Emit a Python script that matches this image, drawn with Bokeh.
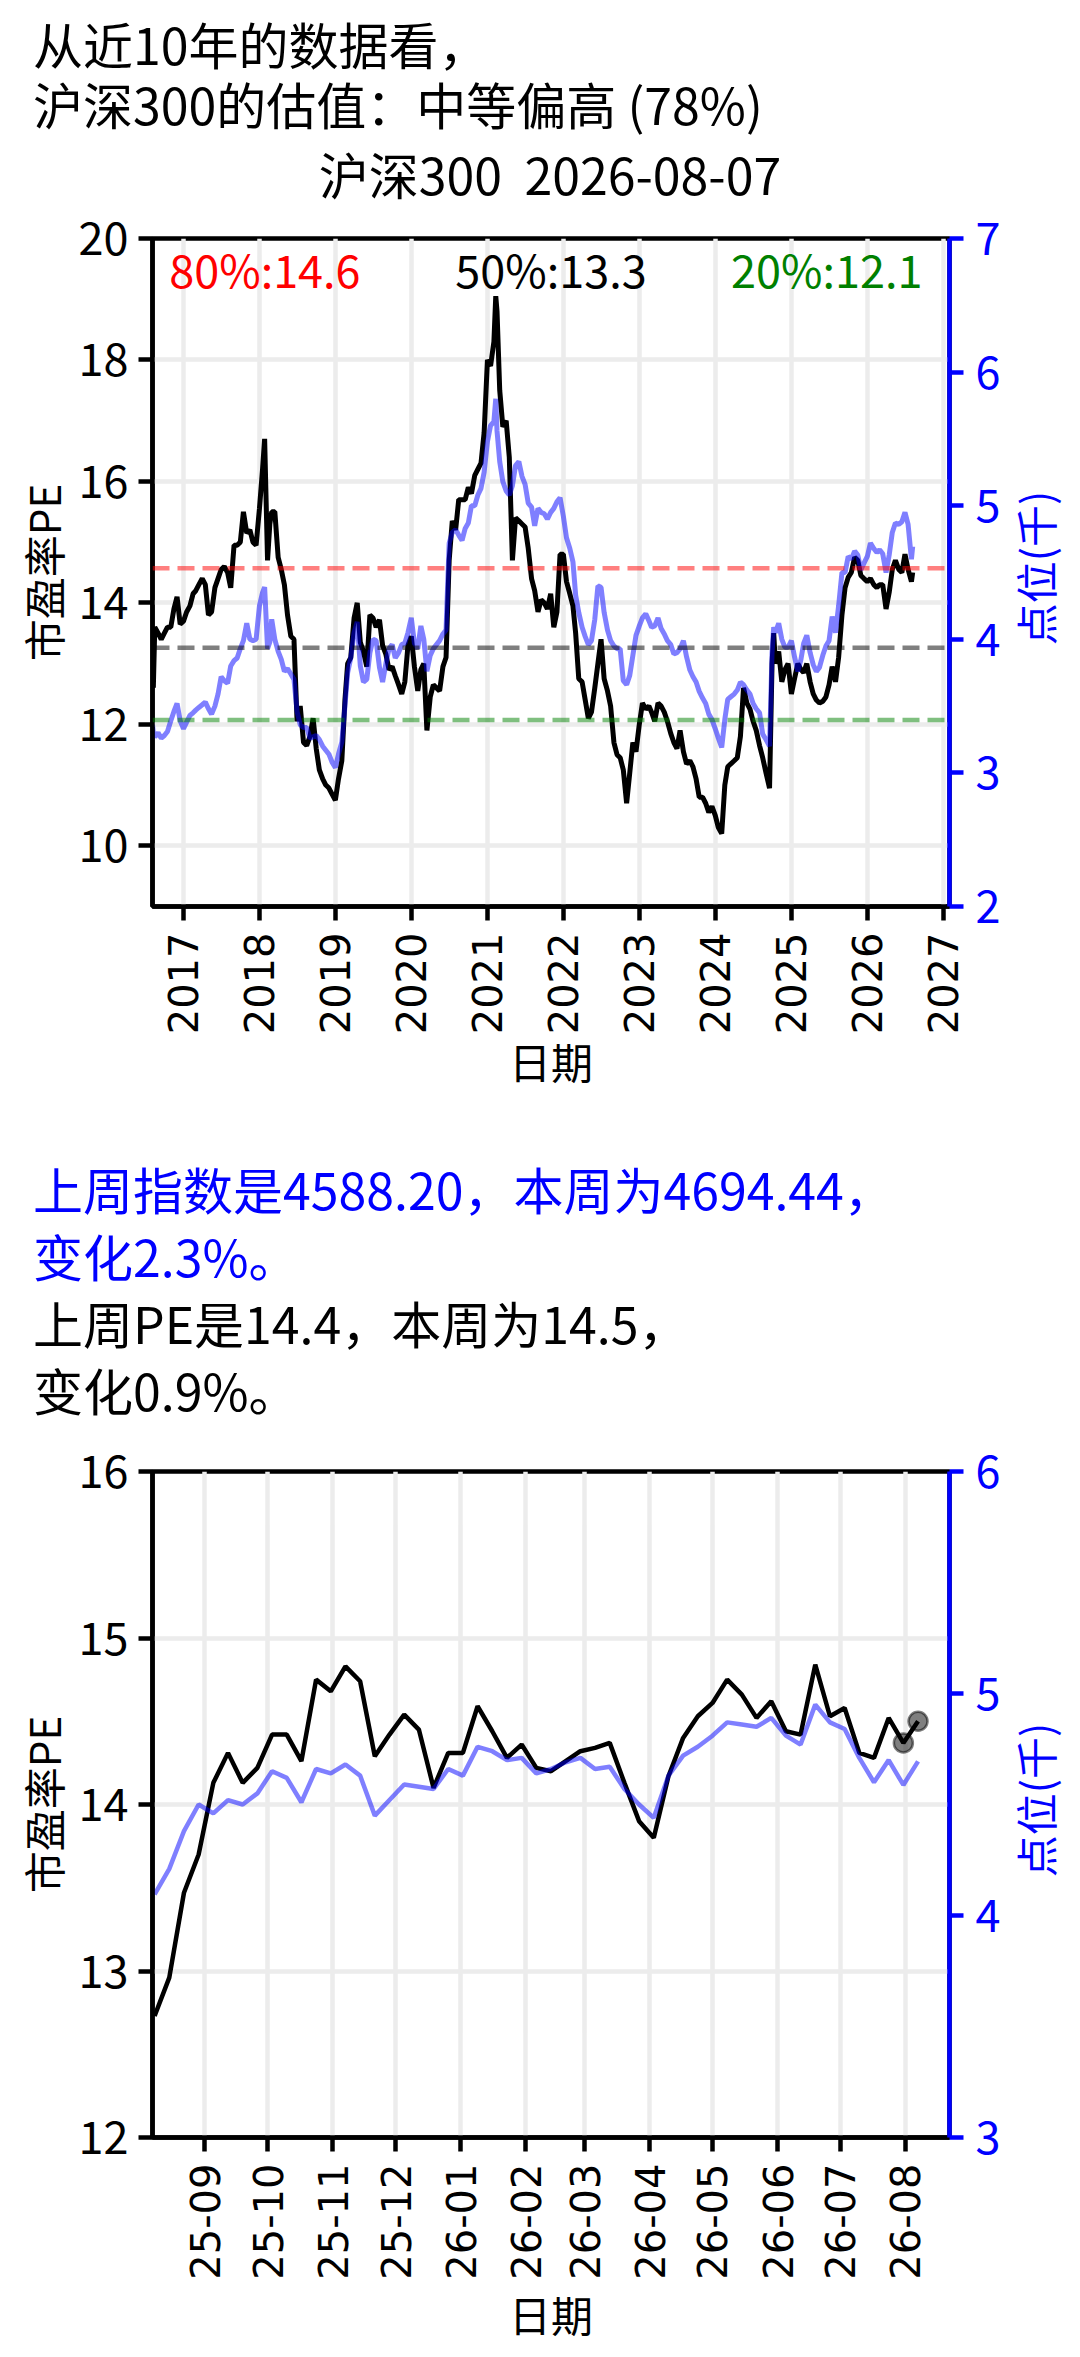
import math
import pandas as pd
from bokeh.plotting import figure
from bokeh.models import Range1d, LinearAxis, FixedTicker, Div, Span, Label
from bokeh.layouts import column, row
from bokeh.embed import file_html
from bokeh.resources import INLINE

CJK = "Noto Sans CJK SC"
LAT = "DejaVu Sans"

# ---------------- texts ----------------
title_lines = ["从近10年的数据看，", "沪深300的估值：中等偏高 (78%)"]
chart_title = "沪深300  2026-08-07"
summary_index = ["上周指数是4588.20，本周为4694.44，", "变化2.3%。"]
summary_pe = ["上周PE是14.4，本周为14.5，", "变化0.9%。"]
left_label = "市盈率PE"
right_label = "点位(千)"
x_label = "日期"

# ---------------- chart 1: 10 years ----------------
dates_10y = [
    "2016-08-05", "2016-08-09", "2016-08-16", "2016-09-01", "2016-09-16", "2016-10-01", "2016-10-16",
    "2016-11-01", "2016-11-16", "2016-12-01", "2016-12-16",
    "2017-01-01", "2017-01-16", "2017-02-01", "2017-02-16", "2017-03-01", "2017-03-16", "2017-04-01", "2017-04-16",
    "2017-05-01", "2017-05-16", "2017-06-01", "2017-06-16", "2017-07-01", "2017-07-16", "2017-08-01", "2017-08-16",
    "2017-09-01", "2017-09-16", "2017-10-01", "2017-10-16", "2017-11-01", "2017-11-16", "2017-12-01", "2017-12-16",
    "2018-01-01", "2018-01-16", "2018-01-26", "2018-02-09", "2018-02-20", "2018-03-01", "2018-03-16", "2018-04-01",
    "2018-04-16", "2018-05-01", "2018-05-16", "2018-06-01", "2018-06-16", "2018-07-01", "2018-07-16", "2018-08-01",
    "2018-08-16", "2018-09-01", "2018-09-16", "2018-10-01", "2018-10-16", "2018-11-01", "2018-11-16", "2018-12-01",
    "2018-12-16",
    "2019-01-01", "2019-01-16", "2019-02-01", "2019-02-16", "2019-03-01", "2019-03-16", "2019-04-01", "2019-04-16",
    "2019-05-01", "2019-05-16", "2019-06-01", "2019-06-16", "2019-07-01", "2019-07-16", "2019-08-01", "2019-08-16",
    "2019-09-01", "2019-09-16", "2019-10-01", "2019-10-16", "2019-11-01", "2019-11-16", "2019-12-01", "2019-12-16",
    "2020-01-01", "2020-01-16", "2020-02-01", "2020-02-16", "2020-03-01", "2020-03-16", "2020-04-01", "2020-04-16",
    "2020-05-01", "2020-05-16", "2020-06-01", "2020-06-16", "2020-07-01", "2020-07-16", "2020-08-01", "2020-08-16",
    "2020-09-01", "2020-09-16", "2020-10-01", "2020-10-16", "2020-11-01", "2020-11-16", "2020-12-01", "2020-12-16",
    "2021-01-01", "2021-01-16", "2021-02-01", "2021-02-10", "2021-02-16", "2021-03-01", "2021-03-16", "2021-04-01",
    "2021-04-16", "2021-05-01", "2021-05-16", "2021-06-01", "2021-06-16", "2021-07-01", "2021-07-16", "2021-08-01",
    "2021-08-16", "2021-09-01", "2021-09-16", "2021-10-01", "2021-10-16", "2021-11-01", "2021-11-16", "2021-12-01",
    "2021-12-16",
    "2022-01-01", "2022-01-16", "2022-02-01", "2022-02-16", "2022-03-01", "2022-03-16", "2022-04-01", "2022-04-16",
    "2022-05-01", "2022-05-16", "2022-06-01", "2022-06-16", "2022-07-01", "2022-07-16", "2022-08-01", "2022-08-16",
    "2022-09-01", "2022-09-16", "2022-10-01", "2022-10-16", "2022-11-01", "2022-11-16", "2022-12-01", "2022-12-16",
    "2023-01-01", "2023-01-16", "2023-02-01", "2023-02-16", "2023-03-01", "2023-03-16", "2023-04-01", "2023-04-16",
    "2023-05-01", "2023-05-16", "2023-06-01", "2023-06-16", "2023-07-01", "2023-07-16", "2023-08-01", "2023-08-16",
    "2023-09-01", "2023-09-16", "2023-10-01", "2023-10-16", "2023-11-01", "2023-11-16", "2023-12-01", "2023-12-16",
    "2024-01-01", "2024-01-16", "2024-02-01", "2024-02-16", "2024-03-01", "2024-03-16", "2024-04-01", "2024-04-16",
    "2024-05-01", "2024-05-16", "2024-06-01", "2024-06-16", "2024-07-01", "2024-07-16", "2024-08-01", "2024-08-16",
    "2024-09-01", "2024-09-18", "2024-09-30", "2024-10-08", "2024-10-16", "2024-11-01", "2024-11-16", "2024-12-01",
    "2024-12-16",
    "2025-01-01", "2025-01-16", "2025-02-01", "2025-02-16", "2025-03-01", "2025-03-16", "2025-04-01", "2025-04-16",
    "2025-05-01", "2025-05-16", "2025-06-01", "2025-06-16", "2025-07-01", "2025-07-16", "2025-08-01", "2025-08-16",
    "2025-09-01", "2025-09-16", "2025-10-01", "2025-10-16", "2025-11-01", "2025-11-16", "2025-12-01", "2025-12-16",
    "2026-01-01", "2026-01-16", "2026-02-01", "2026-02-16", "2026-03-01", "2026-03-16", "2026-04-01", "2026-04-16",
    "2026-05-01", "2026-05-16", "2026-06-01", "2026-06-16", "2026-07-01", "2026-07-16", "2026-08-01", "2026-08-07",
]
pe_10y = [
    13.4, 12.6, 13.6, 13.5, 13.4, 13.5, 13.6, 13.6, 13.9, 14.1, 13.65,
    13.7, 13.85, 13.95, 14.15, 14.2, 14.3, 14.4, 14.3, 13.8, 13.85, 14.25, 14.4,
    14.55, 14.6, 14.5, 14.25, 14.95, 14.95, 15.0, 15.5, 15.15, 15.2, 15.0, 14.95,
    15.55, 16.2, 16.7, 14.7, 15.3, 15.5, 15.5, 14.75, 14.55, 14.3, 13.8, 13.45, 13.4,
    12.05, 12.3, 11.7, 11.65, 11.8, 12.1, 11.6, 11.25, 11.1, 11.0, 10.95, 10.85,
    10.75, 11.1, 11.4, 12.4, 13.0, 13.1, 13.75, 14.0, 13.35, 13.2, 12.95, 13.8,
    13.75, 13.6, 13.72, 13.3, 13.15, 12.9, 12.95, 12.8, 12.65, 12.5, 12.7, 13.3,
    13.45, 12.95, 12.55, 12.9, 13.0, 11.9, 12.45, 12.65, 12.6, 12.55, 12.95, 13.1,
    14.7, 15.35, 15.2, 15.7, 15.7, 15.7, 15.9, 15.8, 16.1, 16.2, 16.3, 16.8,
    18.0, 17.9, 18.3, 19.05, 18.8, 17.5, 16.9, 17.0, 16.4, 14.7, 15.4, 15.35, 15.3,
    15.25, 14.9, 14.4, 14.2, 13.85, 14.05, 14.0, 13.9, 14.15, 13.6, 13.85, 14.8,
    14.8, 14.35, 14.15, 13.95, 13.5, 12.75, 12.7, 12.4, 12.1, 12.2, 12.6, 13.0,
    13.4, 12.75, 12.55, 12.3, 11.7, 11.5, 11.45, 11.25, 10.7, 11.2, 11.7, 11.55,
    12.0, 12.35, 12.25, 12.3, 12.2, 12.05, 12.35, 12.3, 12.2, 12.05, 11.85, 11.7,
    11.6, 11.9, 11.55, 11.35, 11.4, 11.3, 11.1, 10.8, 10.8, 10.7, 10.55, 10.65,
    10.5, 10.3, 10.2, 11.0, 11.3, 11.35, 11.4, 11.45, 11.8, 12.6, 12.35, 12.25,
    12.05, 11.9, 11.65, 11.45, 11.2, 10.95, 13.0, 13.5, 13.0, 13.2, 12.7, 12.9, 13.0,
    12.5, 12.75, 13.0, 12.9, 12.85, 13.0, 12.7, 12.5, 12.4, 12.35, 12.38, 12.45,
    12.65, 12.95, 12.7, 13.1, 13.8, 14.25, 14.42, 14.5, 14.75, 14.7, 14.45, 14.4,
    14.35, 14.4, 14.3, 14.25, 14.3, 14.3, 13.9, 14.17, 14.55, 14.7, 14.55, 14.5,
    14.8, 14.55, 14.35, 14.5,
]
index_10y = [
    3.36, 3.30, 3.27, 3.30, 3.26, 3.28, 3.31, 3.39, 3.46, 3.52, 3.39,
    3.33, 3.38, 3.43, 3.45, 3.47, 3.49, 3.51, 3.53, 3.48, 3.44, 3.50, 3.59,
    3.72, 3.69, 3.67, 3.80, 3.84, 3.86, 3.93, 3.99, 4.12, 4.00, 3.99, 4.00,
    4.25, 4.35, 4.39, 3.93, 3.98, 4.15, 4.00, 3.91, 3.85, 3.76, 3.78, 3.74, 3.70,
    3.46, 3.36, 3.34, 3.34, 3.26, 3.27, 3.28, 3.25, 3.20, 3.17, 3.14, 3.08,
    3.04, 3.14, 3.23, 3.50, 3.75, 3.86, 4.05, 4.13, 3.80, 3.68, 3.70, 3.90,
    4.00, 3.99, 3.79, 3.68, 3.82, 3.93, 3.96, 3.86, 3.90, 3.96, 3.97, 4.05,
    4.16, 3.97, 3.93, 4.10, 4.00, 3.76, 3.88, 3.93, 3.96, 3.99, 4.04, 4.07,
    4.72, 4.80, 4.82, 4.78, 4.74, 4.83, 4.87, 5.00, 5.00, 5.08, 5.13, 5.25,
    5.48, 5.60, 5.63, 5.80, 5.56, 5.33, 5.18, 5.11, 5.08, 5.15, 5.30, 5.33, 5.22,
    5.16, 5.02, 4.99, 4.85, 4.98, 4.95, 4.94, 4.90, 4.95, 4.98, 5.03, 5.06,
    4.92, 4.76, 4.68, 4.58, 4.33, 4.20, 4.09, 4.02, 3.96, 3.99, 4.15, 4.40,
    4.39, 4.20, 4.07, 3.99, 3.95, 3.93, 3.93, 3.69, 3.66, 3.73, 3.88, 4.03,
    4.10, 4.16, 4.19, 4.14, 4.09, 4.10, 4.16, 4.08, 4.04, 3.99, 3.96, 3.89,
    3.90, 3.93, 3.99, 3.87, 3.77, 3.72, 3.68, 3.61, 3.56, 3.52, 3.44, 3.40,
    3.33, 3.26, 3.19, 3.40, 3.55, 3.57, 3.59, 3.62, 3.68, 3.66, 3.62, 3.59,
    3.52, 3.48, 3.45, 3.29, 3.25, 3.20, 3.90, 4.09, 4.05, 4.12, 4.00, 3.94, 3.94,
    3.99, 3.87, 3.76, 3.85, 3.97, 4.03, 3.90, 3.81, 3.76, 3.79, 3.88, 3.95,
    3.99, 4.17, 4.05, 4.25, 4.50, 4.50, 4.62, 4.60, 4.66, 4.63, 4.52, 4.57,
    4.62, 4.72, 4.68, 4.65, 4.67, 4.64, 4.50, 4.63, 4.80, 4.87, 4.86, 4.88,
    4.95, 4.86, 4.60, 4.694,
]
pct_labels = ["80%:14.6", "50%:13.3", "20%:12.1"]
pct_values = [14.57, 13.26, 12.07]
pct_colors = ["red", "black", "green"]

year_ticks = ["2017-01-01", "2018-01-01", "2019-01-01", "2020-01-01", "2021-01-01", "2022-01-01",
              "2023-01-01", "2024-01-01", "2025-01-01", "2026-01-01", "2027-01-01"]
year_labels = ["2017", "2018", "2019", "2020", "2021", "2022", "2023", "2024", "2025", "2026", "2027"]
pe_ticks_10y = [10, 12, 14, 16, 18, 20]
index_ticks_10y = [2, 3, 4, 5, 6, 7]

# ---------------- chart 2: last 53 weeks ----------------
dates_1y = [
    "2025-08-08", "2025-08-15", "2025-08-22", "2025-08-29", "2025-09-05", "2025-09-12", "2025-09-19", "2025-09-26",
    "2025-10-03", "2025-10-10", "2025-10-17", "2025-10-24", "2025-10-31", "2025-11-07", "2025-11-14", "2025-11-21",
    "2025-11-28", "2025-12-05", "2025-12-12", "2025-12-19", "2025-12-26", "2026-01-02", "2026-01-09", "2026-01-16",
    "2026-01-23", "2026-01-30", "2026-02-06", "2026-02-13", "2026-02-20", "2026-02-27", "2026-03-06", "2026-03-13",
    "2026-03-20", "2026-03-27", "2026-04-03", "2026-04-10", "2026-04-17", "2026-04-24", "2026-05-01", "2026-05-08",
    "2026-05-15", "2026-05-22", "2026-05-29", "2026-06-05", "2026-06-12", "2026-06-19", "2026-06-26", "2026-07-03",
    "2026-07-10", "2026-07-17", "2026-07-24", "2026-07-31", "2026-08-07",
]
pe_1y = [12.73, 12.96, 13.47, 13.70, 14.13, 14.31, 14.13, 14.22, 14.42, 14.42, 14.26, 14.75, 14.68, 14.83,
         14.74, 14.29, 14.42, 14.54, 14.45, 14.10, 14.31, 14.31, 14.59, 14.44, 14.28, 14.36, 14.22, 14.20,
         14.26, 14.32, 14.34, 14.37, 14.13, 13.90, 13.80, 14.17, 14.40, 14.53, 14.61, 14.75, 14.66, 14.52,
         14.62, 14.44, 14.42, 14.84, 14.53, 14.58, 14.31, 14.28, 14.52, 14.37, 14.50]
index_1y = [4.095, 4.21, 4.38, 4.50, 4.46, 4.52, 4.50, 4.55, 4.65, 4.62, 4.51, 4.66, 4.64, 4.68, 4.63, 4.45,
            4.52, 4.59, 4.58, 4.57, 4.66, 4.63, 4.76, 4.74, 4.70, 4.71, 4.64, 4.66, 4.69, 4.71, 4.66, 4.67,
            4.57, 4.50, 4.44, 4.63, 4.72, 4.76, 4.81, 4.87, 4.86, 4.85, 4.89, 4.81, 4.77, 4.95, 4.87, 4.84,
            4.71, 4.60, 4.70, 4.588, 4.694]
month_ticks = ["2025-09-01", "2025-10-01", "2025-11-01", "2025-12-01", "2026-01-01", "2026-02-01",
               "2026-03-01", "2026-04-01", "2026-05-01", "2026-06-01", "2026-07-01", "2026-08-01"]
month_labels = ["25-09", "25-10", "25-11", "25-12", "26-01", "26-02", "26-03", "26-04", "26-05", "26-06",
                "26-07", "26-08"]
pe_ticks_1y = [12, 13, 14, 15, 16]
index_ticks_1y = [3, 4, 5, 6]

RIGHT_W = 57      # width of the html column holding the right-hand axis title
FIG_W = 1064 - RIGHT_W


def ms(s):
    return pd.Timestamp(s).value / 1e6


def style_axis(ax, color, font, size):
    ax.axis_line_width = 4.5
    ax.axis_line_color = color
    ax.major_tick_line_width = 4.5
    ax.major_tick_line_color = color
    ax.major_tick_out = 14
    ax.major_tick_in = 0
    ax.minor_tick_line_color = None
    ax.major_label_text_color = color
    ax.major_label_text_font = font
    ax.major_label_text_font_size = size
    ax.axis_label_text_font = CJK
    ax.axis_label_text_font_size = "42px"
    ax.axis_label_text_font_style = "normal"
    ax.axis_label_text_color = color


def make_chart(height, top, bottom, x_start, x_end, y_rng, y2_rng, dates, pe,
               xticks, xlabels, yticks, y2ticks, lw, xlab_standoff):
    x0, x1 = ms(x_start), ms(x_end)
    p = figure(width=FIG_W, height=height, x_axis_type="datetime",
               x_range=Range1d(x0, x1), y_range=Range1d(*y_rng),
               output_backend="svg", toolbar_location=None,
               min_border_left=144, min_border_right=66, min_border_top=top, min_border_bottom=bottom,
               background_fill_color="white", border_fill_color="white")
    p.extra_y_ranges = {"idx": Range1d(*y2_rng)}
    p.outline_line_color = "black"
    p.outline_line_width = 4.5

    xt = [ms(t) for t in xticks]
    xax = p.xaxis[0]
    xax.ticker = FixedTicker(ticks=xt)
    xax.major_label_overrides = {v: lab for v, lab in zip(xt, xlabels)}
    xax.major_label_orientation = math.pi / 2
    style_axis(xax, "black", LAT, "40px")
    xax.axis_label = x_label
    xax.major_label_standoff = 12
    xax.axis_label_standoff = xlab_standoff

    yax = p.yaxis[0]
    yax.ticker = FixedTicker(ticks=yticks)
    style_axis(yax, "black", CJK, "45px")
    yax.axis_label = left_label
    yax.major_label_standoff = 10
    yax.axis_label_standoff = 3

    ax2 = LinearAxis(y_range_name="idx", ticker=FixedTicker(ticks=y2ticks))
    style_axis(ax2, "blue", CJK, "45px")
    ax2.major_label_standoff = 12
    p.add_layout(ax2, "right")

    p.xgrid[0].ticker = FixedTicker(ticks=xt)
    p.ygrid[0].ticker = FixedTicker(ticks=yticks)
    for g in (p.xgrid[0], p.ygrid[0]):
        g.grid_line_color = "#ececec"
        g.grid_line_width = 4.5

    xs = [ms(d) for d in dates]
    p.line(xs, pe, line_color="black", line_width=lw)
    return p, xs, x0, x1


def right_title(height, cy):
    html = (
        f'<div style="position:relative;width:{RIGHT_W}px;height:{height}px;">'
        f'<div style="position:absolute;left:20px;top:{cy}px;transform:translate(-50%,-50%) rotate(-90deg);'
        "font-family:'Noto Sans CJK SC';font-size:42px;line-height:42px;white-space:pre;color:blue;\">"
        f'{right_label}</div></div>'
    )
    return Div(text=html, width=RIGHT_W, height=height, margin=(0, 0, 0, 0))


# ---------- figure 1 ----------
p1, xs1, a0, a1 = make_chart(908, 36, 204, "2016-08-05", "2027-01-31", (9, 20), (2, 7),
                             dates_10y, pe_10y, year_ticks, year_labels,
                             pe_ticks_10y, index_ticks_10y, 5, -7)
for val, col in zip(pct_values, pct_colors):
    p1.add_layout(Span(location=val, dimension="width", line_color=col, line_alpha=0.5,
                       line_width=4.5, line_dash="17 8"))
p1.line(xs1, index_10y, line_color="blue", line_alpha=0.5, line_width=5, y_range_name="idx")
label_pos = [(0.021, "left"), (0.5, "center"), (0.966, "right")]
for (frac, align), txt, col in zip(label_pos, pct_labels, pct_colors):
    p1.add_layout(Label(x=a0 + frac * (a1 - a0), y=19.5, text=txt, text_color=col,
                        text_font=CJK, text_font_size="45px", text_align=align,
                        text_baseline="middle"))

# ---------- figure 2 ----------
p2, xs2, b0, b1 = make_chart(919, 41, 212, "2025-08-07", "2026-08-22", (12, 16), (3, 6),
                             dates_1y, pe_1y, month_ticks, month_labels,
                             pe_ticks_1y, index_ticks_1y, 4.5, 0)
p2.line(xs2, index_1y, line_color="blue", line_alpha=0.5, line_width=4.5, y_range_name="idx")
p2.scatter(xs2[-2:], pe_1y[-2:], size=19, fill_color="black", fill_alpha=0.5,
           line_color="black", line_alpha=0.5, line_width=2.5)

# ---------- text blocks ----------
font = "font-family:'Noto Sans CJK SC';font-size:50px;white-space:pre;position:absolute;"
title_html = (
    '<div style="position:relative;width:1064px;height:194px;">'
    f'<div style="{font}left:25px;top:5px;line-height:60px;color:black;">'
    f'{title_lines[0]}<br>{title_lines[1]}</div>'
    f'<div style="{font}left:542px;top:140px;line-height:50px;transform:translateX(-50%);color:black;">'
    f'{chart_title}</div>'
    '</div>'
)
summary_html = (
    '<div style="position:relative;width:1064px;height:320px;">'
    f'<div style="{font}left:25px;top:45px;line-height:67px;">'
    f'<span style="color:blue;">{summary_index[0]}<br>{summary_index[1]}</span><br>'
    f'<span style="color:black;">{summary_pe[0]}<br>{summary_pe[1]}</span></div>'
    '</div>'
)
div1 = Div(text=title_html, width=1064, height=194, margin=(0, 0, 0, 0))
div2 = Div(text=summary_html, width=1064, height=320, margin=(0, 0, 0, 0))
p1.margin = (0, 0, 0, 0)
p2.margin = (0, 0, 0, 0)

row1 = row(p1, right_title(908, 366), spacing=0, margin=(0, 0, 0, 0))
row2 = row(p2, right_title(919, 370), spacing=0, margin=(0, 0, 0, 0))
layout = column(div1, row1, div2, row2, spacing=0, margin=(8, 8, 8, 8))
open("out.html", "w").write(file_html(layout, INLINE))
